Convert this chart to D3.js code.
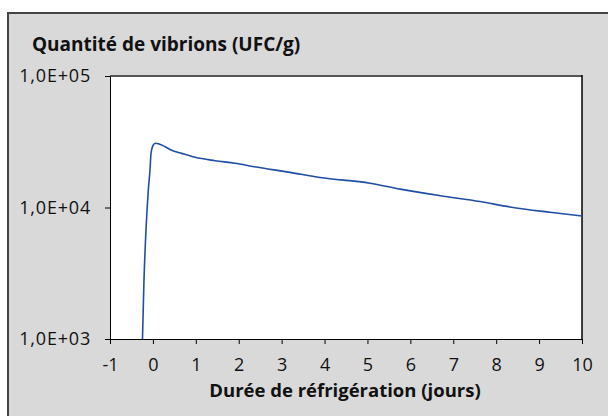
<!DOCTYPE html>
<html>
<head>
    <script src="https://d3js.org/d3.v7.min.js"></script>
    <style>
        body { margin: 0; background: #fff; overflow: hidden; }
        svg { display: block; }
        text { font-family: "Open Sans", sans-serif; fill: #111; }
        .axis path, .axis line { stroke: #000; }
    </style>
</head>
<body>
    <div id="chart"></div>
    <script>
        // jours de réfrigération
        const days = [-0.243, -0.208, -0.161, -0.107, -0.068, -0.044, 0.009, 0.065, 0.142, 0.282,
                      0.422, 0.671, 0.981, 1.447, 1.913, 2.363, 3.195, 3.894, 5.059, 5.759,
                      6.691, 7.623, 8.322, 9.254, 10]
        // UFC/g
        const counts = [1000, 2810, 6740, 13600, 19300, 25800, 29900, 30800, 30400, 29000,
                        27400, 25800, 24100, 22700, 21700, 20400, 18500, 16900, 15300, 13800,
                        12300, 11100, 10100, 9200, 8610]
        const xTicks = [-1, 0, 1, 2, 3, 4, 5, 6, 7, 8, 9, 10]
        const yTicks = [1e3, 1e4, 1e5]

        const w = 608
        const h = 416
        const pLeft = 110, pRight = 582, pTop = 76, pBottom = 339

        const svg = d3.select('#chart').append('svg')
            .attr('width', w)
            .attr('height', h)

        // cadre gris
        svg.append('rect')
            .attr('x', 8).attr('y', 13)
            .attr('width', 700).attr('height', 500)
            .attr('fill', '#d9d9d9')
            .attr('stroke', '#444')
            .attr('stroke-width', 2)

        const x = d3.scaleLinear().domain([-1, 10]).range([pLeft, pRight])
        const y = d3.scaleLog().domain([1e3, 1e5]).range([pBottom, pTop])

        svg.append('rect')
            .attr('x', pLeft).attr('y', pTop)
            .attr('width', pRight - pLeft).attr('height', pBottom - pTop)
            .attr('fill', '#fff')

        svg.append('line')
            .attr('x1', pLeft).attr('x2', pRight)
            .attr('y1', pTop).attr('y2', pTop)
            .attr('stroke', '#555').attr('stroke-width', 2)
        svg.append('line')
            .attr('x1', pRight).attr('x2', pRight)
            .attr('y1', pTop - 1).attr('y2', pBottom)
            .attr('stroke', '#000').attr('stroke-width', 1.5)

        const xAxis = d3.axisBottom(x)
            .tickValues(xTicks)
            .tickFormat(d => String(d))
            .tickSize(5)
            .tickSizeOuter(0)
            .tickPadding(14)

        const yAxis = d3.axisLeft(y)
            .tickValues(yTicks)
            .tickFormat(d => '1,0E+0' + Math.round(Math.log10(d)))
            .tickSize(5)
            .tickSizeOuter(0)
            .tickPadding(14)

        svg.append('g')
            .attr('class', 'axis')
            .attr('transform', 'translate(0,' + pBottom + ')')
            .call(xAxis)
            .call(g => g.selectAll('text').style('font-size', '18px').attr('fill', '#111'))

        svg.append('g')
            .attr('class', 'axis')
            .attr('transform', 'translate(' + pLeft + ',0)')
            .call(yAxis)
            .call(g => g.selectAll('text').style('font-size', '18px')
                .style('letter-spacing', '0.8px').attr('fill', '#111'))

        const pts = days.map((d, i) => [d, counts[i]])
        const line = d3.line()
            .x(d => x(d[0]))
            .y(d => y(d[1]))
            .curve(d3.curveMonotoneX)

        svg.append('path')
            .datum(pts)
            .attr('d', line)
            .attr('fill', 'none')
            .attr('stroke', '#1f4fa5')
            .attr('stroke-width', 1.6)

        svg.append('text')
            .attr('x', 32).attr('y', 51)
            .style('font-size', '19px')
            .style('font-weight', 'bold')
            .text('Quantité de vibrions (UFC/g)')

        svg.append('text')
            .attr('x', 345).attr('y', 397)
            .attr('text-anchor', 'middle')
            .style('font-size', '18.5px')
            .style('font-weight', 'bold')
            .text('Durée de réfrigération (jours)')
    </script>
</body>
</html>
